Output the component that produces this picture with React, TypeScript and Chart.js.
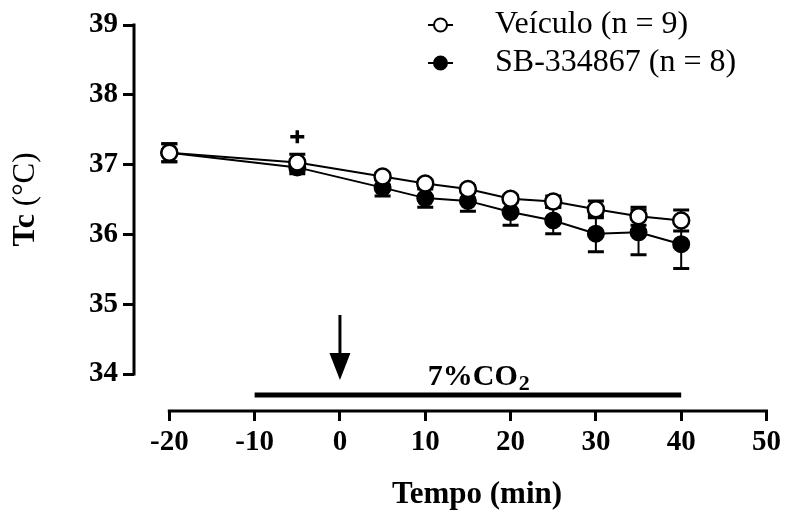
import React, { useEffect, useRef } from 'react';
import { Chart, registerables } from 'chart.js';

Chart.register(...registerables);

// ---- data ----
const timeMin = [-20, -5, 5, 10, 15, 20, 25, 30, 35, 40];
const vehicleMean = [37.17, 37.03, 36.83, 36.73, 36.65, 36.51, 36.47, 36.36, 36.26, 36.2];
const vehicleSem = [0.13, 0.12, 0.05, 0.05, 0.05, 0.05, 0.08, 0.12, 0.13, 0.15];
const sbMean = [37.17, 36.96, 36.67, 36.52, 36.48, 36.32, 36.2, 36.01, 36.03, 35.86];
const sbSem = [0.13, 0.09, 0.12, 0.13, 0.15, 0.19, 0.19, 0.26, 0.32, 0.35];
const seriesLabels = ['Veículo (n = 9)', 'SB-334867 (n = 8)'];
const xTicks = [-20, -10, 0, 10, 20, 30, 40, 50];
const yTicks = [34, 35, 36, 37, 38, 39];
const xTitle = 'Tempo (min)';
const yTitleBold = 'Tc';
const yTitleRest = ' (°C)';
// annotations
const co2Start = -10;
const co2End = 40;
const co2Label = '7%CO';
const co2Sub = '2';
const injectionTime = 0;
const significanceTime = -5;
const significanceLevel = 37.4;

const SERIF = "'Liberation Serif', 'Times New Roman', serif";
const semByDataset = [vehicleSem, sbSem];

const errorBarPlugin = {
  id: 'errorBars',
  beforeDatasetDraw(chart: any, args: any) {
    const ds = chart.data.datasets[args.index];
    const sem = semByDataset[args.index];
    const xs = chart.scales.x;
    const ys = chart.scales.y;
    const ctx = chart.ctx;
    ctx.save();
    ctx.strokeStyle = '#000';
    ds.data.forEach((p: any, i: number) => {
      const x = xs.getPixelForValue(p.x);
      const yTop = ys.getPixelForValue(p.y + sem[i]);
      const yBot = ys.getPixelForValue(p.y - sem[i]);
      ctx.lineWidth = 2;
      ctx.beginPath();
      ctx.moveTo(x, yTop);
      ctx.lineTo(x, yBot);
      ctx.stroke();
      ctx.lineWidth = 3;
      ctx.beginPath();
      ctx.moveTo(x - 8, yTop);
      ctx.lineTo(x + 8, yTop);
      ctx.moveTo(x - 8, yBot);
      ctx.lineTo(x + 8, yBot);
      ctx.stroke();
    });
    ctx.restore();
  },
};

const decorPlugin = {
  id: 'decor',
  afterDraw(chart: any) {
    const ctx = chart.ctx;
    const xs = chart.scales.x;
    const ys = chart.scales.y;
    const area = chart.chartArea;
    ctx.save();
    ctx.strokeStyle = '#000';
    ctx.fillStyle = '#000';

    // axis lines (offset style)
    ctx.lineWidth = 3;
    ctx.beginPath();
    ctx.moveTo(xs.getPixelForValue(xTicks[0]) - 1.5, area.bottom);
    ctx.lineTo(xs.getPixelForValue(xTicks[xTicks.length - 1]) + 1.5, area.bottom);
    ctx.moveTo(area.left, ys.getPixelForValue(yTicks[0]) + 1.5);
    ctx.lineTo(area.left, ys.getPixelForValue(yTicks[yTicks.length - 1]) - 1.5);
    ctx.stroke();

    // CO2 bar
    const barY = ys.getPixelForValue(yTicks[0]) + 21;
    ctx.lineWidth = 5;
    ctx.beginPath();
    ctx.moveTo(xs.getPixelForValue(co2Start), barY);
    ctx.lineTo(xs.getPixelForValue(co2End), barY);
    ctx.stroke();

    // CO2 label
    const labX = xs.getPixelForValue(10.3);
    const labBase = barY - 10;
    ctx.textAlign = 'left';
    ctx.textBaseline = 'alphabetic';
    ctx.font = `bold 30px ${SERIF}`;
    ctx.fillText(co2Label, labX, labBase);
    const w = ctx.measureText(co2Label).width;
    ctx.font = `bold 22px ${SERIF}`;
    ctx.fillText(co2Sub, labX + w + 1, labBase + 5);

    // injection arrow
    const ax = xs.getPixelForValue(injectionTime);
    const tipY = barY - 15;
    ctx.lineWidth = 3;
    ctx.beginPath();
    ctx.moveTo(ax, tipY - 65);
    ctx.lineTo(ax, tipY - 20);
    ctx.stroke();
    ctx.beginPath();
    ctx.moveTo(ax - 10.5, tipY - 27);
    ctx.lineTo(ax + 10.5, tipY - 27);
    ctx.lineTo(ax, tipY);
    ctx.closePath();
    ctx.fill();

    // significance mark (+)
    const px = xs.getPixelForValue(significanceTime);
    const py = ys.getPixelForValue(significanceLevel);
    ctx.lineWidth = 3.5;
    ctx.beginPath();
    ctx.moveTo(px - 7, py);
    ctx.lineTo(px + 7, py);
    ctx.moveTo(px, py - 6.5);
    ctx.lineTo(px, py + 6.5);
    ctx.stroke();

    // x title
    ctx.font = `bold 31px ${SERIF}`;
    ctx.textAlign = 'center';
    ctx.textBaseline = 'alphabetic';
    ctx.fillText(xTitle, 477, 503);

    // y title
    ctx.save();
    ctx.translate(26, (ys.getPixelForValue(yTicks[0]) + ys.getPixelForValue(yTicks[yTicks.length - 1])) / 2);
    ctx.rotate(-Math.PI / 2);
    ctx.textBaseline = 'middle';
    ctx.textAlign = 'left';
    ctx.font = `bold 32px ${SERIF}`;
    const wb = ctx.measureText(yTitleBold).width;
    ctx.font = `31px ${SERIF}`;
    const wr = ctx.measureText(yTitleRest).width;
    const start = -(wb + wr) / 2;
    ctx.font = `bold 32px ${SERIF}`;
    ctx.fillText(yTitleBold, start, 0);
    ctx.font = `31px ${SERIF}`;
    ctx.fillText(yTitleRest, start + wb, 0);
    ctx.restore();

    // legend
    const rows = [25, 63];
    chart.data.datasets.forEach((ds: any, i: number) => {
      const y = rows[i];
      ctx.lineWidth = 2;
      ctx.beginPath();
      ctx.moveTo(428, y);
      ctx.lineTo(453, y);
      ctx.stroke();
      ctx.beginPath();
      ctx.arc(440.5, y, 6.5, 0, Math.PI * 2);
      ctx.fillStyle = ds.pointBackgroundColor;
      ctx.fill();
      ctx.stroke();
      ctx.fillStyle = '#000';
      ctx.font = `32px ${SERIF}`;
      ctx.textAlign = 'left';
      ctx.textBaseline = 'middle';
      ctx.fillText(ds.label, 495, y);
    });
    ctx.restore();
  },
};

export default function App() {
  const ref = useRef<HTMLCanvasElement>(null);
  useEffect(() => {
    const canvas = ref.current;
    if (!canvas) return;
    const mk = (mean: number[]) => mean.map((v, i) => ({ x: timeMin[i], y: v }));
    const chart = new Chart(canvas, {
      type: 'line',
      data: {
        datasets: [
          {
            label: seriesLabels[0],
            data: mk(vehicleMean),
            borderColor: '#000',
            borderWidth: 2,
            pointRadius: 8,
            pointBorderWidth: 2.5,
            pointBackgroundColor: '#fff',
            pointBorderColor: '#000',
            tension: 0,
          },
          {
            label: seriesLabels[1],
            data: mk(sbMean),
            borderColor: '#000',
            borderWidth: 2,
            pointRadius: 8,
            pointBorderWidth: 2,
            pointBackgroundColor: '#000',
            pointBorderColor: '#000',
            tension: 0,
          },
        ],
      },
      options: {
        animation: false,
        responsive: false,
        devicePixelRatio: 1,
        events: [],
        layout: { padding: { left: 0, top: 25, right: 18, bottom: 0 } },
        plugins: { legend: { display: false }, tooltip: { enabled: false }, title: { display: false } },
        scales: {
          x: {
            type: 'linear',
            min: -24.14,
            max: 50,
            afterBuildTicks: (axis: any) => {
              axis.ticks = xTicks.map((v) => ({ value: v }));
            },
            afterFit: (scale: any) => {
              scale.height = 103;
            },
            border: { display: false },
            grid: {
              drawOnChartArea: false,
              drawTicks: true,
              tickLength: 10,
              tickWidth: 3,
              tickColor: '#000',
              color: '#000',
            },
            ticks: {
              color: '#000',
              padding: 4,
              maxRotation: 0,
              autoSkip: false,
              font: { family: SERIF, size: 29, weight: 'bold' },
            },
          },
          y: {
            type: 'linear',
            min: 33.47,
            max: 39,
            afterBuildTicks: (axis: any) => {
              axis.ticks = yTicks.map((v) => ({ value: v }));
            },
            afterFit: (scale: any) => {
              scale.width = 134;
            },
            border: { display: false },
            grid: {
              drawOnChartArea: false,
              drawTicks: true,
              tickLength: 11,
              tickWidth: 3,
              tickColor: '#000',
              color: '#000',
            },
            ticks: {
              color: '#000',
              padding: 5,
              autoSkip: false,
              font: { family: SERIF, size: 29, weight: 'bold' },
            },
          },
        },
      },
      plugins: [errorBarPlugin, decorPlugin],
    } as any);
    return () => chart.destroy();
  }, []);
  return (
    <div style={{ position: 'absolute', left: 0, top: 0, width: 785, height: 514, background: '#fff' }}>
      <canvas ref={ref} width={785} height={514} style={{ display: 'block', width: 785, height: 514 }} />
    </div>
  );
}
